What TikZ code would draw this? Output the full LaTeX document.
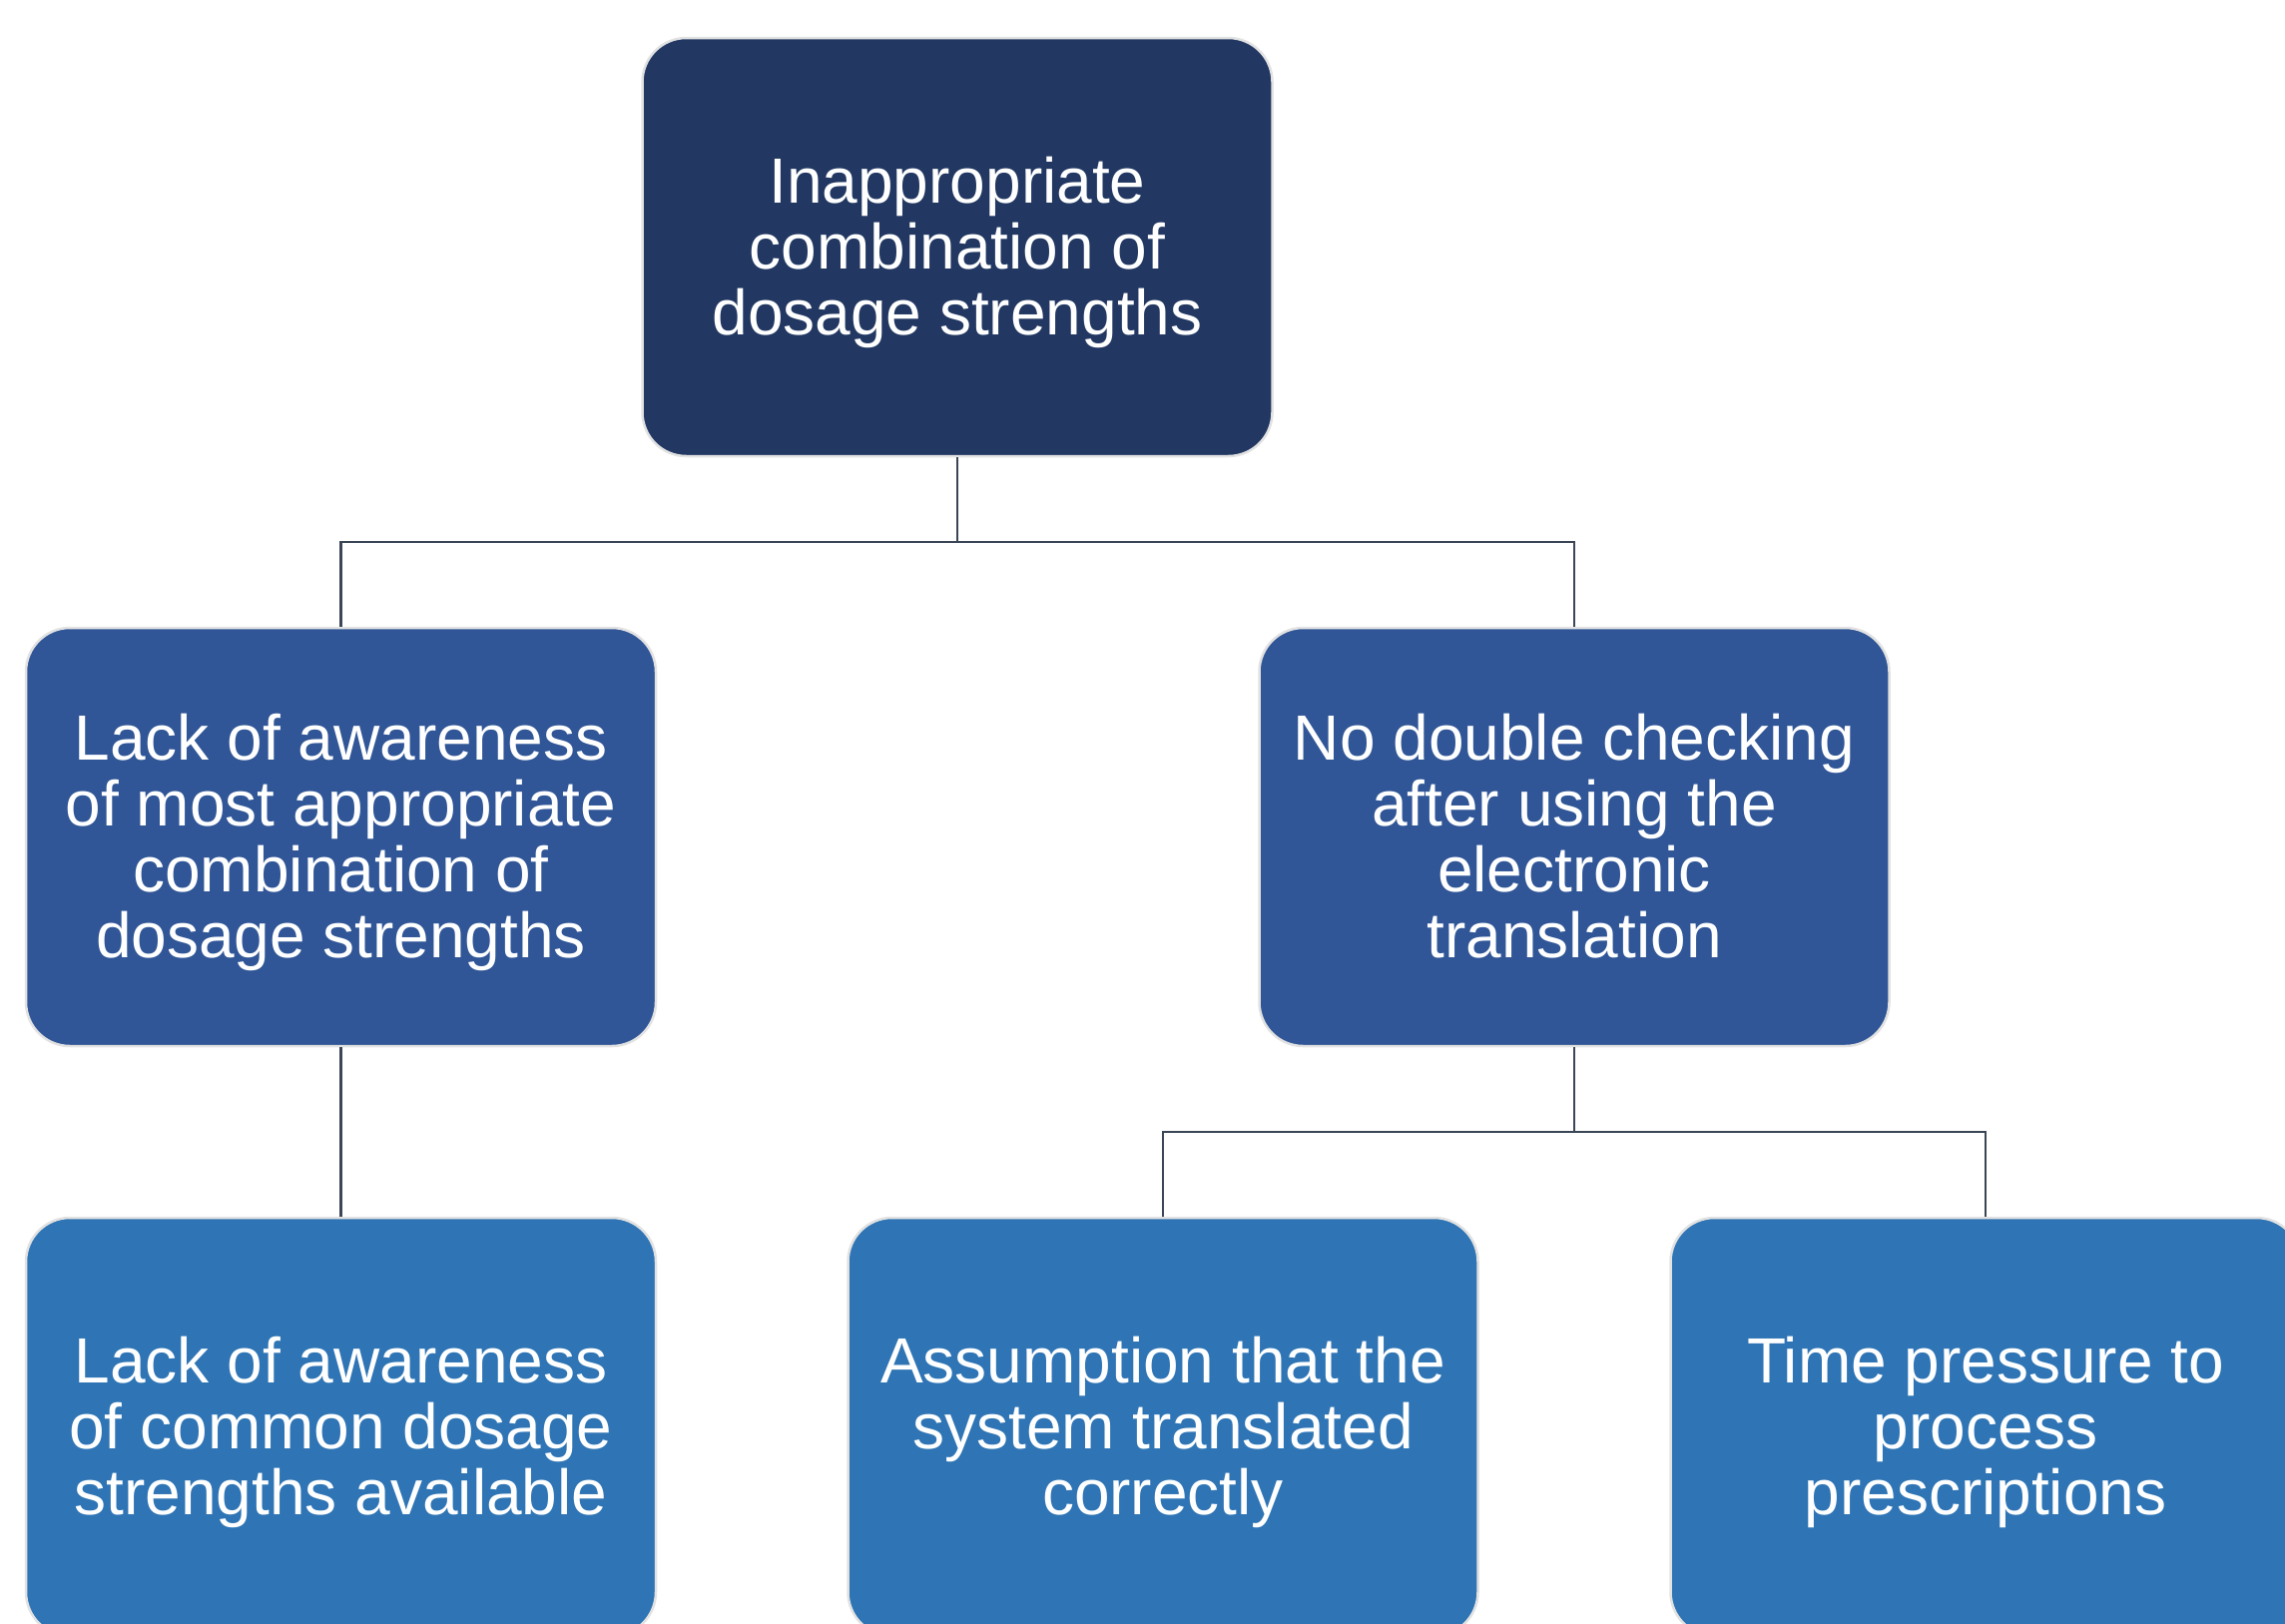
\documentclass[tikz,border=0pt]{standalone}
\usepackage{fontspec}
\setmainfont{Liberation Sans}
\definecolor{cTop}{HTML}{223862}
\definecolor{cMid}{HTML}{305697}
\definecolor{cBot}{HTML}{2F75B5}
\definecolor{cEdge}{HTML}{E2E2E2}
\definecolor{cLine}{HTML}{3A4656}
\newcommand\bt{\rule{0pt}{59pt}}
\newcommand\bb{\rule[-16pt]{0pt}{16pt}}
\tikzset{
  box/.style={draw=cEdge, line width=2.5pt, rounded corners=44pt,
    minimum width=631pt, minimum height=419pt, inner sep=0pt,
    text=white, align=center,
    font=\fontsize{64}{66}\selectfont},
  link/.style={draw=cLine, line width=2.2pt}
}
\begin{document}
\begin{tikzpicture}[x=1pt,y=-1pt]
\useasboundingbox (0,0) rectangle (2289,1626);
\clip (0,0) rectangle (2289,1626);
\node[box, fill=cTop] (top) at (959,247.5) {\bt Inappropriate\\combination of\\dosage strengths\bb};
\node[box, fill=cMid] (ml) at (341.5,838.5) {\bt Lack of awareness\\of most appropriate\\combination of\\dosage strengths\bb};
\node[box, fill=cMid] (mr) at (1577,838.5) {\bt No double checking\\after using the\\electronic\\translation\bb};
\node[box, fill=cBot] (bl) at (341.5,1429.5) {\bt Lack of awareness\\of common dosage\\strengths available\bb};
\node[box, fill=cBot] (bm) at (1165,1429.5) {\bt Assumption that the\\system translated\\correctly\bb};
\node[box, fill=cBot] (br) at (1989,1429.5) {\bt Time pressure to\\process\\prescriptions\bb};
\coordinate (bus1) at (959,543);
\coordinate (bus2) at (1577,1134);
\draw[link] (top.south) -- (bus1) -| (ml.north);
\draw[link] (bus1) -| (mr.north);
\draw[link] (ml.south) -- (bl.north);
\draw[link] (mr.south) -- (bus2) -| (bm.north);
\draw[link] (bus2) -| (br.north);
\end{tikzpicture}
\end{document}
